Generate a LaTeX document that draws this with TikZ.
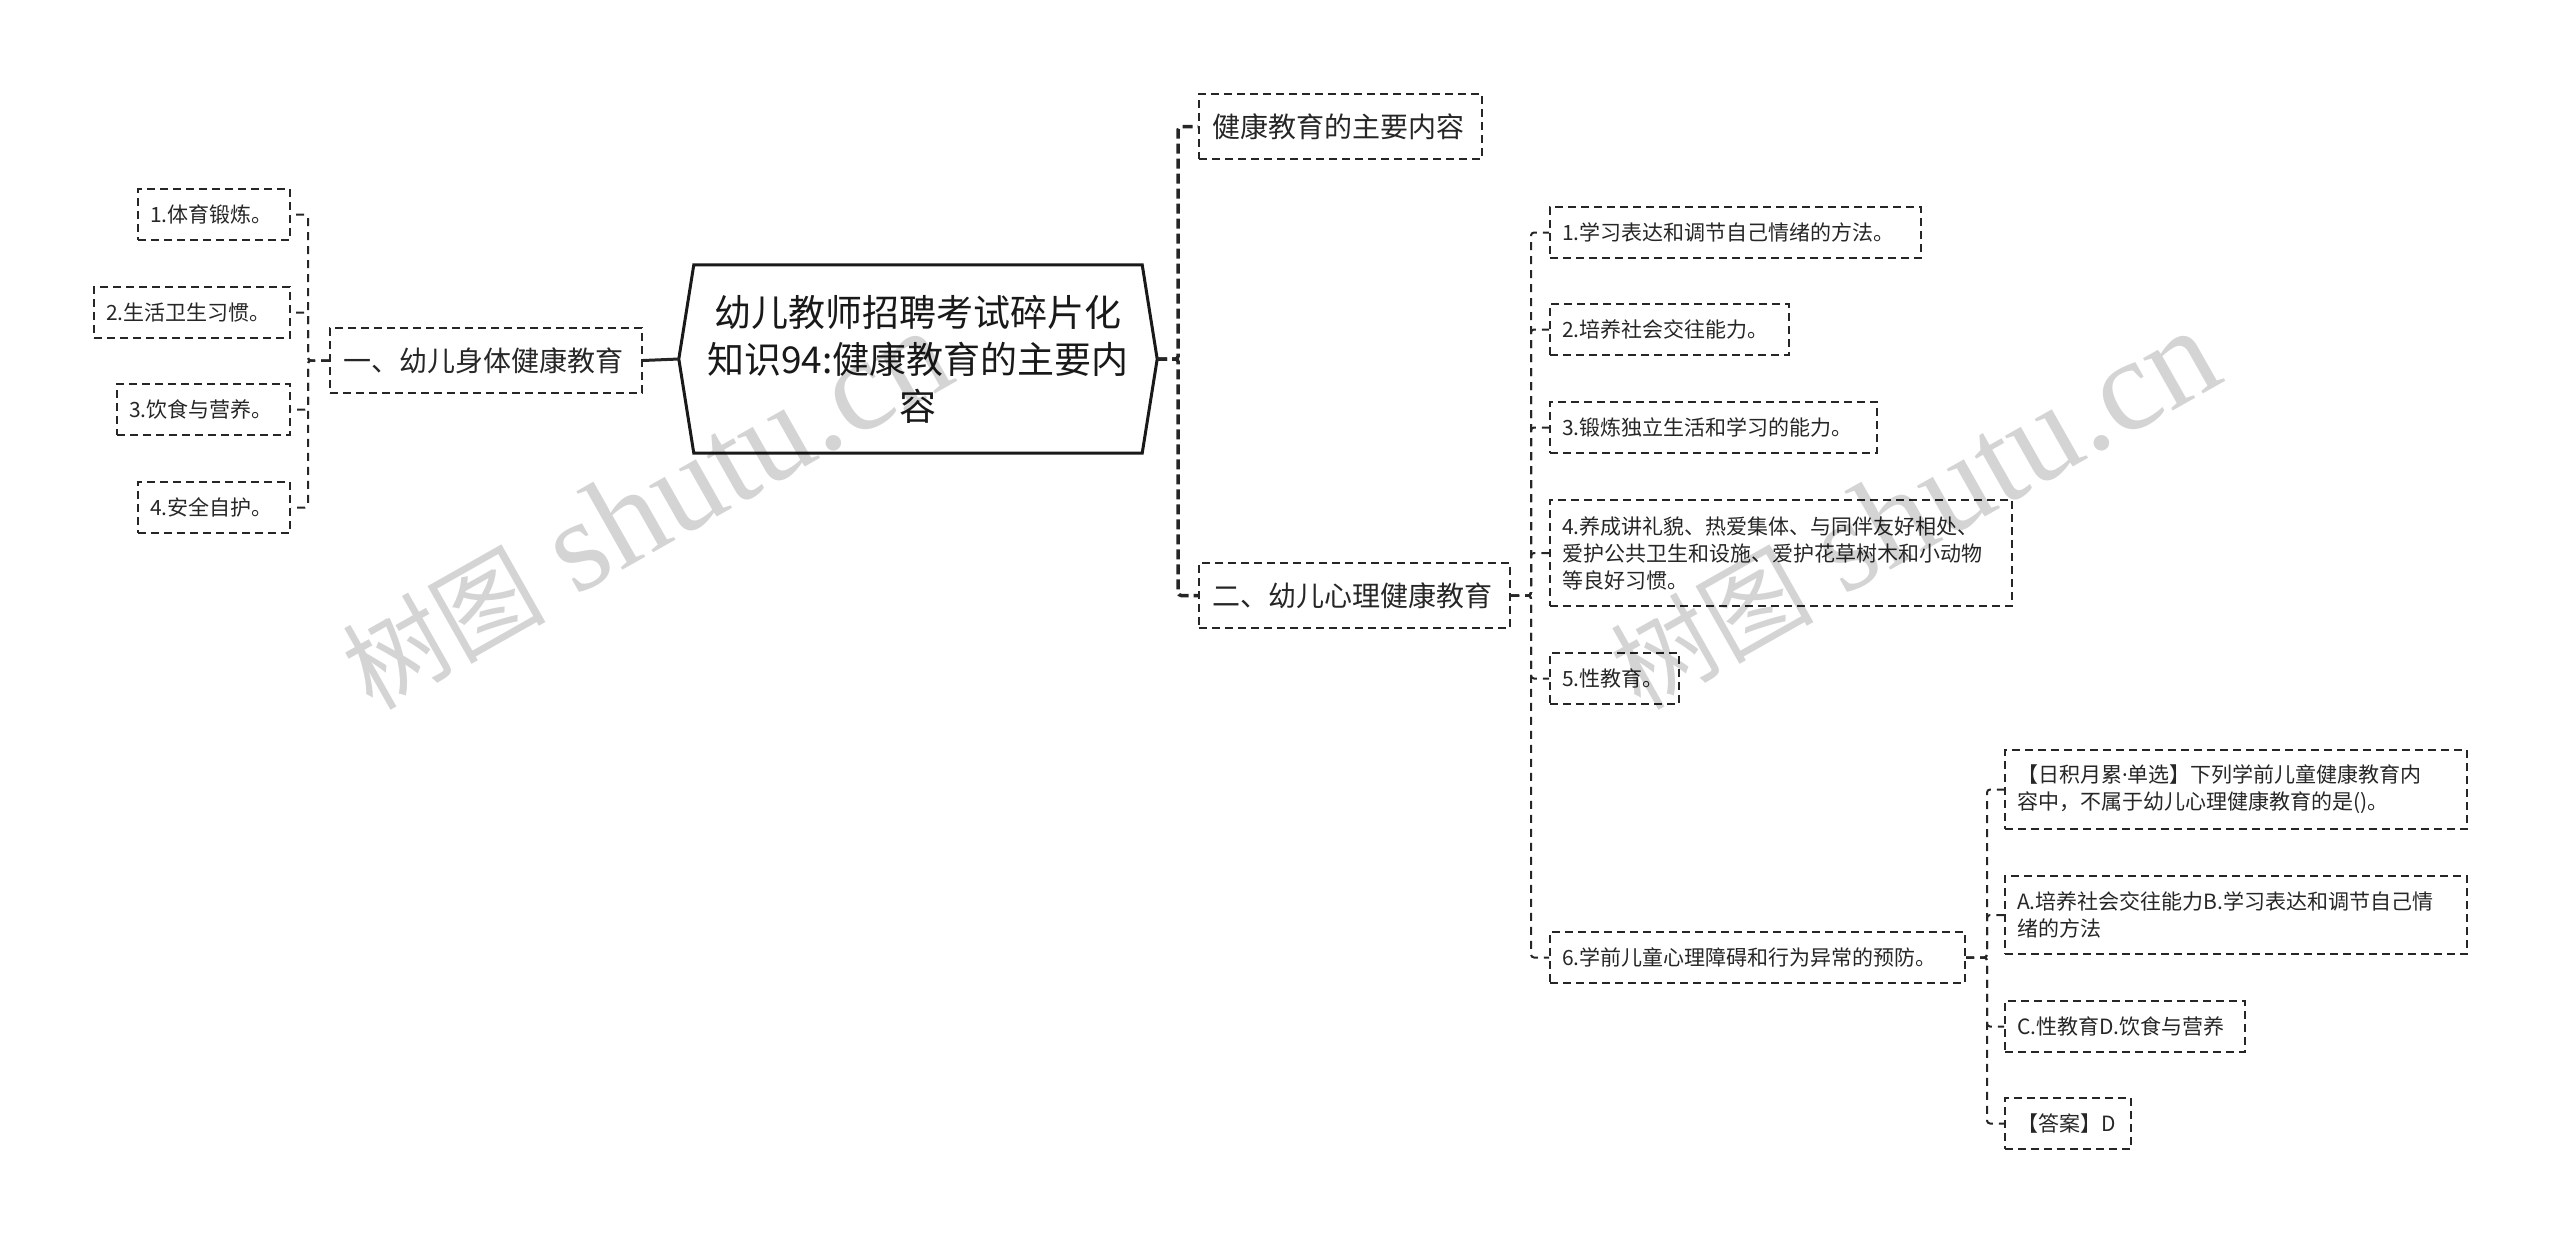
\documentclass[tikz,border=0pt]{standalone}
\usepackage{fontspec}
\setmainfont{Noto Sans CJK SC}
\newfontfamily\wmcjk{Noto Sans CJK SC}
\newfontfamily\wmserif{Liberation Serif}
\newfontfamily\latinsans{Noto Sans}
\usetikzlibrary{calc}
\begin{document}
\begin{tikzpicture}[x=1pt,y=-1pt,
  leaf/.style={draw=black!85, line width=2pt, dash pattern=on 8pt off 5pt,
    inner xsep=12pt, inner ysep=0pt, align=left, anchor=west,
    minimum height=51pt, text=black!85, font=\fontsize{21}{27}\selectfont},
  mainbox/.style={leaf, inner xsep=13pt, minimum height=65pt, font=\fontsize{28}{34}\selectfont},
  thinconn/.style={draw=black!85, line width=2pt, dash pattern=on 8pt off 6pt, rounded corners=3pt},
  thickconn/.style={draw=black!85, line width=3.5pt, dash pattern=on 10pt off 5pt, rounded corners=3pt},
  solidconn/.style={draw=black!85, line width=3pt},
  wm/.style={text=black, text opacity=0.17, inner sep=0pt, rotate=29.5, anchor=base west}
]
\useasboundingbox (0,0) rectangle (2560,1243);

% root
\node[inner sep=0pt, minimum width=448pt, minimum height=188pt, align=center,
  text=black!90, font=\fontsize{37}{47}\selectfont] (root) at (918,359)
  {幼儿教师招聘考试碎片化\\知识94:健康教育的主要内\\容};
\coordinate (rootL) at ($(root.west)+(-15,0)$);
\coordinate (rootR) at ($(root.east)+(15,0)$);
\draw[black!90, line width=3pt, line join=miter]
  (root.north west) -- (root.north east) -- (rootR) -- (root.south east)
  -- (root.south west) -- (rootL) -- cycle;

% left branch
\node[mainbox, text width=286pt] (l0) at (329,360.5) {一、幼儿身体健康教育};
\node[leaf, text width=128pt] (a1) at (137,214.5) {1.体育锻炼。};
\node[leaf, text width=172pt] (a2) at (93,312.5) {2.生活卫生习惯。};
\node[leaf, text width=149pt] (a3) at (116,409.5) {3.饮食与营养。};
\node[leaf, text width=128pt] (a4) at (137,507.5) {4.安全自护。};

% right branch
\node[mainbox, text width=257pt] (r1) at (1198,126.5) {健康教育的主要内容};
\node[mainbox, text width=285pt] (r2) at (1198,595.5) {二、幼儿心理健康教育};

\node[leaf, text width=347pt] (b1) at (1549,232.5) {1.学习表达和调节自己情绪的方法。};
\node[leaf, text width=215pt] (b2) at (1549,329.5) {2.培养社会交往能力。};
\node[leaf, text width=303pt] (b3) at (1549,427.5) {3.锻炼独立生活和学习的能力。};
\node[leaf, text width=438pt, minimum height=106pt] (b4) at (1549,553)
  {4.养成讲礼貌、热爱集体、与同伴友好相处、\\爱护公共卫生和设施、爱护花草树木和小动物\\等良好习惯。};
\node[leaf, text width=105pt] (b5) at (1549,678.5) {5.性教育。};
\node[leaf, text width=391pt] (b6) at (1549,957.5) {6.学前儿童心理障碍和行为异常的预防。};

\node[leaf, text width=438pt, minimum height=79pt] (c1) at (2004,789.5)
  {【日积月累{\latinsans ·}单选】下列学前儿童健康教育内\\容中，不属于幼儿心理健康教育的是()。};
\node[leaf, text width=438pt, minimum height=78pt] (c2) at (2004,915)
  {A.培养社会交往能力B.学习表达和调节自己情\\绪的方法};
\node[leaf, text width=216pt] (c3) at (2004,1026.5) {C.性教育D.饮食与营养};
\node[leaf, text width=102pt] (c4) at (2004,1123.5) {【答案】D};

% connectors
\draw[solidconn] (l0.east) -- (rootL);
\foreach \n in {a1,a2,a3,a4}
  \draw[thinconn] (l0.west) -- ++(-21,0) |- (\n.east);
\foreach \n in {r1,r2}
  \draw[thickconn] (rootR) -- ++(21,0) |- (\n.west);
\foreach \n in {b1,b2,b3,b4,b5,b6}
  \draw[thinconn] (r2.east) -- ++(20,0) |- (\n.west);
\foreach \n in {c1,c2,c3,c4}
  \draw[thinconn] (b6.east) -- ++(21,0) |- (\n.west);

% watermarks
\node[wm] (wm1) at (372,712)
  {{\wmcjk\fontsize{102}{102}\selectfont 树图}\hspace{30pt}{\wmserif\fontsize{131}{131}\selectfont shutu.cn}};
\node[wm] (wm2) at (1640,712)
  {{\wmcjk\fontsize{102}{102}\selectfont 树图}\hspace{30pt}{\wmserif\fontsize{131}{131}\selectfont shutu.cn}};
\end{tikzpicture}
\end{document}
